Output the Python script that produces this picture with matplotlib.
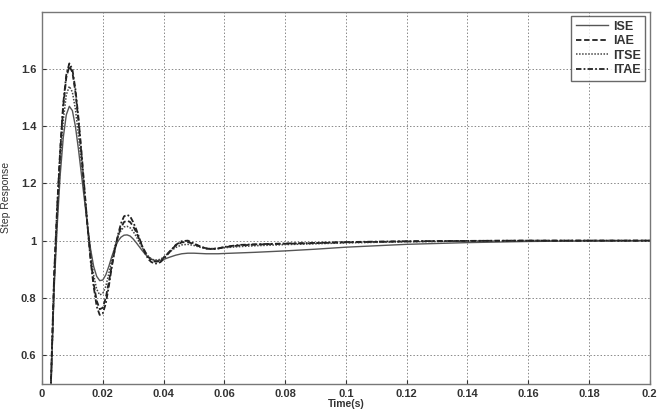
import numpy as np
import matplotlib
matplotlib.use("Agg")
import matplotlib.pyplot as plt

# sample times (s)
t = [0, 0.002, 0.003, 0.004, 0.005, 0.006, 0.007, 0.008, 0.009, 0.010,
     0.011, 0.012, 0.013, 0.014, 0.015, 0.016, 0.017, 0.018, 0.019, 0.020,
     0.021, 0.022, 0.023, 0.024, 0.025, 0.026, 0.027, 0.028, 0.029, 0.030,
     0.031, 0.032, 0.033, 0.034, 0.035, 0.036, 0.037, 0.038, 0.039, 0.040,
     0.042, 0.044, 0.046, 0.048, 0.050, 0.052, 0.054, 0.056, 0.058, 0.060,
     0.065, 0.070, 0.080, 0.090, 0.100, 0.120, 0.140, 0.160, 0.180, 0.200]

ise = [0, 0.20, 0.50, 0.83, 1.05, 1.23, 1.36, 1.44, 1.47, 1.455,
       1.40, 1.32, 1.23, 1.14, 1.05, 0.97, 0.91, 0.875, 0.86, 0.862,
       0.88, 0.91, 0.945, 0.975, 0.998, 1.012, 1.019, 1.02, 1.016, 1.006,
       0.993, 0.979, 0.965, 0.952, 0.942, 0.935, 0.931, 0.93, 0.931, 0.934,
       0.942, 0.949, 0.954, 0.956, 0.956, 0.955, 0.954, 0.954, 0.954, 0.955,
       0.957, 0.959, 0.964, 0.970, 0.977, 0.987, 0.993, 0.997, 0.999, 1.0]

iae = [0, 0.20, 0.52, 0.87, 1.11, 1.31, 1.47, 1.57, 1.61, 1.59,
       1.52, 1.42, 1.30, 1.17, 1.05, 0.94, 0.85, 0.79, 0.76, 0.765,
       0.80, 0.855, 0.915, 0.97, 1.015, 1.045, 1.065, 1.07, 1.065, 1.05,
       1.03, 1.005, 0.98, 0.96, 0.943, 0.932, 0.927, 0.927, 0.93, 0.94,
       0.962, 0.983, 0.994, 0.995, 0.988, 0.979, 0.973, 0.971, 0.973, 0.977,
       0.983, 0.986, 0.989, 0.991, 0.994, 0.997, 0.999, 1.0, 1.0, 1.0]

itse = [0, 0.20, 0.51, 0.85, 1.08, 1.27, 1.42, 1.51, 1.54, 1.52,
        1.46, 1.37, 1.27, 1.16, 1.05, 0.96, 0.88, 0.83, 0.81, 0.815,
        0.84, 0.885, 0.935, 0.98, 1.015, 1.035, 1.048, 1.05, 1.045, 1.032,
        1.015, 0.995, 0.975, 0.958, 0.945, 0.936, 0.932, 0.932, 0.935, 0.942,
        0.96, 0.976, 0.985, 0.987, 0.983, 0.977, 0.973, 0.972, 0.973, 0.975,
        0.979, 0.982, 0.986, 0.989, 0.992, 0.996, 0.998, 0.999, 1.0, 1.0]

itae = [0, 0.20, 0.52, 0.88, 1.12, 1.32, 1.48, 1.58, 1.62, 1.60,
        1.53, 1.43, 1.31, 1.18, 1.05, 0.93, 0.84, 0.77, 0.74, 0.745,
        0.78, 0.84, 0.91, 0.97, 1.02, 1.06, 1.085, 1.09, 1.085, 1.065,
        1.04, 1.01, 0.98, 0.955, 0.935, 0.925, 0.92, 0.92, 0.925, 0.935,
        0.96, 0.985, 0.998, 1.0, 0.99, 0.98, 0.972, 0.97, 0.972, 0.978,
        0.985, 0.987, 0.99, 0.992, 0.995, 0.998, 0.999, 1.0, 1.0, 1.0]

xticks = [0, 0.02, 0.04, 0.06, 0.08, 0.1, 0.12, 0.14, 0.16, 0.18, 0.2]
xlabels = ["0", "0.02", "0.04", "0.06", "0.08", "0.1", "0.12", "0.14", "0.16", "0.18", "0.2"]
yticks = [0.6, 0.8, 1.0, 1.2, 1.4, 1.6]
ylabels = ["0.6", "0.8", "1", "1.2", "1.4", "1.6"]

plt.rcParams["font.family"] = ["Liberation Sans", "DejaVu Sans"]

fig = plt.figure(figsize=(6.61, 4.13), dpi=100)
ax = fig.add_axes([0.0635, 0.0714, 0.9195, 0.8996])

ax.plot(t, ise, color="#555555", lw=1.0, ls="-", label="ISE")
ax.plot(t, iae, color="#222222", lw=1.3, ls=(0, (3, 1.5)), label="IAE")
ax.plot(t, itse, color="#444444", lw=1.1, ls=(0, (1, 1)), label="ITSE")
ax.plot(t, itae, color="#222222", lw=1.3, ls=(0, (3, 1.2, 1, 1.2)), label="ITAE")

ax.set_xlim(0, 0.2)
ax.set_ylim(0.5, 1.8)
ax.set_xticks(xticks)
ax.set_xticklabels(xlabels)
ax.set_yticks(yticks)
ax.set_yticklabels(ylabels)
ax.tick_params(direction="in", length=3, labelsize=8, colors="#333333", pad=4)
for lab in ax.get_xticklabels() + ax.get_yticklabels():
    lab.set_fontweight("bold")

ax.grid(True, color="#888888", ls=(0, (1.5, 2)), lw=0.7)
for sp in ax.spines.values():
    sp.set_color("#777777")
    sp.set_linewidth(1.0)

ax.set_xlabel("Time(s)", fontsize=7.5, fontweight="bold", color="#333333", labelpad=0)
ax.set_ylabel("Step Response", fontsize=7.5, color="#333333", labelpad=7)

leg = ax.legend(loc="upper right", fontsize=9, frameon=True, fancybox=False,
                handlelength=2.6, handletextpad=0.4, borderpad=0.35,
                labelspacing=0.2, borderaxespad=0.35)
leg.get_frame().set_edgecolor("#444444")
leg.get_frame().set_linewidth(1.0)
for txt in leg.get_texts():
    txt.set_fontweight("bold")
    txt.set_color("#333333")

fig.savefig("out.png", dpi=100)
